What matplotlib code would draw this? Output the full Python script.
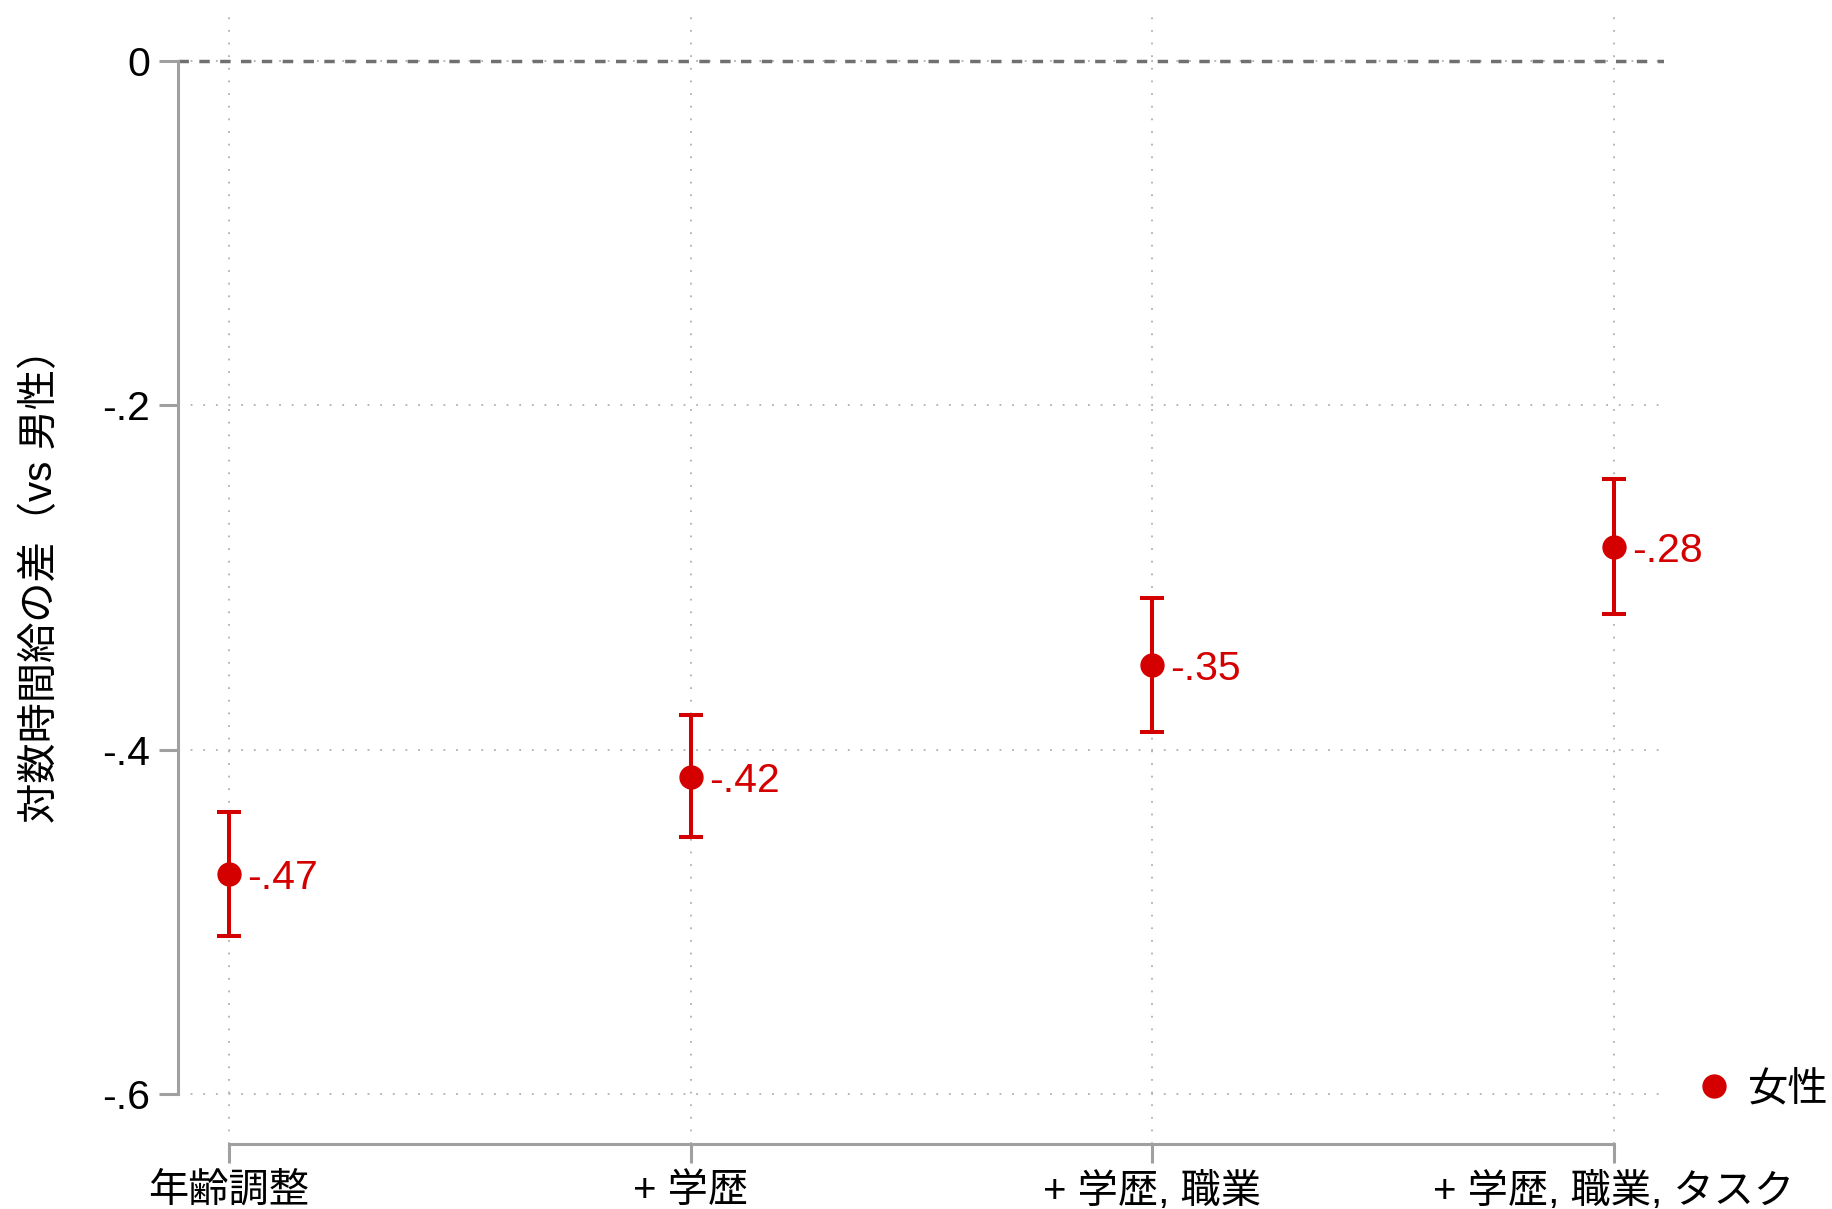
import matplotlib
matplotlib.use("Agg")
import matplotlib.pyplot as plt

# Gender gap in log hourly wage, by set of controls
models = ["年齢調整", "+ 学歴", "+ 学歴, 職業", "+ 学歴, 職業, タスク"]
coef = [-0.472, -0.416, -0.351, -0.282]
ci_low = [-0.508, -0.451, -0.390, -0.321]
ci_high = [-0.436, -0.380, -0.312, -0.243]
yticks = [0, -0.2, -0.4, -0.6]
yticklabels = ["0", "-.2", "-.4", "-.6"]

RED = "#d40000"
plt.rcParams["font.family"] = ["Liberation Sans", "Noto Sans CJK JP"]

fig = plt.figure(figsize=(18.32, 12.09), dpi=100)
W, H = 1832, 1209
ax = fig.add_axes([178 / W, 1 - 1144 / H, (1664 - 178) / W, (1144 - 12) / H])

x = list(range(1, len(models) + 1))
ax.set_xlim(0.8895, 4.1083)
ax.set_ylim(-0.62904, 0.02846)

# grid
ax.set_yticks(yticks)
ax.set_yticklabels(yticklabels, fontsize=29.5)
ax.set_xticks(x)
ax.set_xticklabels(models, fontsize=29)
ax.grid(True, color="#b0b0b0", linestyle=(0, (1, 6)), linewidth=1.3)
ax.set_axisbelow(True)
ax.axhline(0, color="#707070", linewidth=2.5, linestyle=(0, (3, 3)), zorder=1)

# estimates with 95% CI
err = [[c - lo for c, lo in zip(coef, ci_low)], [hi - c for c, hi in zip(coef, ci_high)]]
ax.errorbar(x, coef, yerr=err, fmt="none", ecolor=RED, elinewidth=2.9,
            capsize=8.3, capthick=2.9, zorder=3)
ax.plot(x, coef, "o", color=RED, markersize=16.5, linestyle="none", label="女性", zorder=4)
for xi, c in zip(x, coef):
    ax.annotate(f"{c:.2f}".replace("0.", "."), (xi, c), xytext=(13, 0),
                textcoords="offset points", ha="left", va="center_baseline",
                color=RED, fontsize=29.5)

for s in ["top", "right"]:
    ax.spines[s].set_visible(False)
for s in ["left", "bottom"]:
    ax.spines[s].set_color("#a0a0a0")
    ax.spines[s].set_linewidth(2.2)
ax.spines["left"].set_bounds(-0.6, 0)
ax.spines["bottom"].set_bounds(1, 4)
ax.tick_params(axis="both", colors="#a0a0a0", width=2.2, length=14, labelcolor="black",
               pad=6)

ax.set_ylabel("対数時間給の差（vs 男性）", fontsize=29, va="center")
ax.yaxis.set_label_coords((41 - 178) / (1664 - 178), (1144 - 576) / (1144 - 12))

leg = ax.legend(loc="center left", bbox_to_anchor=(1698 / W, 1 - 1089 / H),
                bbox_transform=fig.transFigure, frameon=False, fontsize=29,
                handlelength=0.8, handletextpad=0.45, borderpad=0, borderaxespad=0)

fig.savefig("out.png", dpi=100)
